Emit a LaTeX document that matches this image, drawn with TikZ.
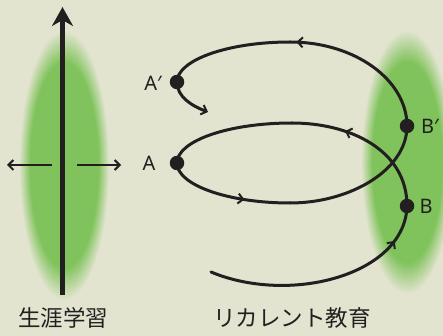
\documentclass[tikz,border=0pt]{standalone}
\usepackage{fontspec}
\setmainfont{Noto Sans CJK JP}
\newfontfamily\latfont{Noto Sans}
\usetikzlibrary{arrows.meta,decorations.markings}
\definecolor{bg}{HTML}{E2E4CF}
\definecolor{gr}{HTML}{80C35C}
\definecolor{ink}{HTML}{231F20}
\pgfdeclareradialshading{blob}{\pgfpointorigin}{color(0bp)=(gr); color(19bp)=(gr); color(25bp)=(bg); color(50bp)=(bg)}
\tikzset{
  curve/.style={draw=ink, line width=3pt, line cap=round},
  midarrow/.style={postaction={decorate}, decoration={markings,
      mark=at position #1 with {\arrow{Straight Barb[length=5pt,width=10pt,line width=2pt]}}}},
  dot/.style={circle, fill=ink, inner sep=0pt, minimum size=14.5pt},
  lbl/.style={text=ink, font=\latfont\fontsize{20}{20}\selectfont, inner sep=0pt},
  captxt/.style={text=ink, font=\fontsize{22.5}{22.5}\selectfont, inner sep=0pt},
  vert/.style={draw=ink, line width=5pt, -{Stealth[length=19pt,width=21pt,inset=6pt]}},
  horiz/.style={draw=ink, line width=2pt, -{Straight Barb[length=5pt,width=10pt]}}
}
\begin{document}
\begin{tikzpicture}[x=1pt,y=-1pt]
\fill[bg] (0,0) rectangle (443,336);
\useasboundingbox (0,0) rectangle (443,336);
% green blobs
\shade[shading=blob] (64,165) ellipse [x radius=45, y radius=135];
\shade[shading=blob] (407,162) ellipse [x radius=46, y radius=132];
% left: lifelong learning
\coordinate (vb) at (62.5,295);
\coordinate (vt) at (62.5,7);
\draw[vert] (vb) -- (vt);
\coordinate (hl1) at (52,165);
\coordinate (hl2) at (7,165);
\coordinate (hr1) at (77,165);
\coordinate (hr2) at (121,165);
\draw[horiz] (hl1) -- (hl2);
\draw[horiz] (hr1) -- (hr2);
% right: recurrent spiral
\coordinate (S) at (211,272);
\coordinate (tL) at (292,123);
\coordinate (bL) at (290,203);
\coordinate (tU) at (290,42);
\coordinate (E) at (208,112);
\coordinate (pA) at (177,163);
\coordinate (pAp) at (177,82);
\coordinate (pB) at (407,206);
\coordinate (pBp) at (407,126);
\draw[curve, midarrow=0.84] (S) .. controls (290,305) and (405,275) .. (pB);
\draw[curve, midarrow=0.66] (pB) .. controls (407,150) and (350,123) .. (tL);
\draw[curve] (tL) .. controls (228,123) and (177,141) .. (pA);
\draw[curve, midarrow=0.64] (pA) .. controls (177,185) and (228,203) .. (bL);
\draw[curve] (bL) .. controls (350,203) and (407,170) .. (pBp);
\draw[curve, midarrow=0.96] (pBp) .. controls (407,80) and (355,42) .. (tU);
\draw[curve] (tU) .. controls (228,42) and (177,60) .. (pAp);
\draw[curve, -{Straight Barb[length=5pt,width=10pt,line width=2pt]}] (pAp) .. controls (177,97) and (192,106) .. (E);
\node[dot] (A) at (pA) {};
\node[dot] (Ap) at (pAp) {};
\node[dot] (B) at (pB) {};
\node[dot] (Bp) at (pBp) {};
\node[lbl] (lA) at (149,163) {A};
\node[lbl] (lAp) at (153,83) {A′};
\node[lbl] (lB) at (426,206) {B};
\node[lbl] (lBp) at (430,126) {B′};
% captions
\node[captxt] (t1) at (63,318) {生涯学習};
\node[captxt] (t2) at (292,318) {リカレント教育};
\end{tikzpicture}
\end{document}
